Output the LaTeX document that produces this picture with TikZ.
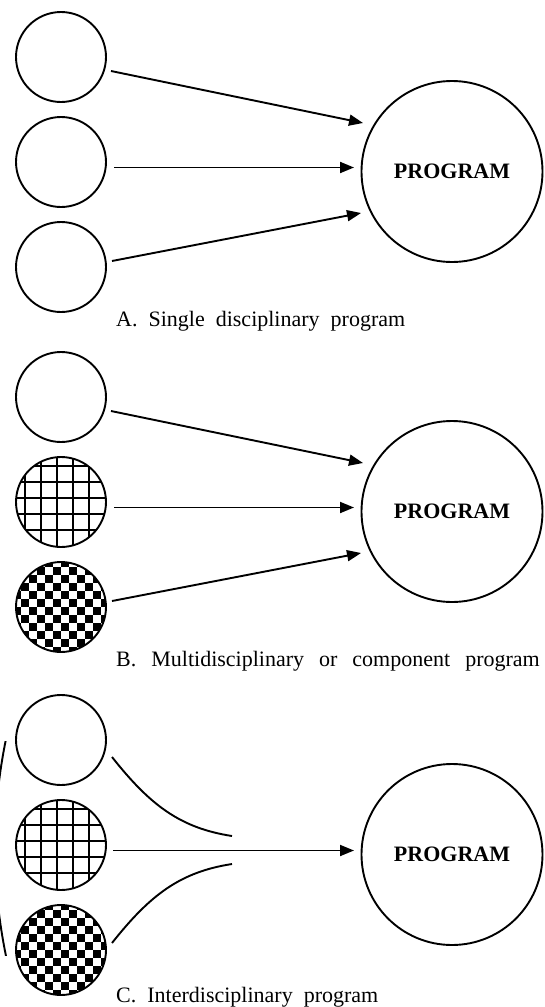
\documentclass[tikz,border=0pt]{standalone}
\usepackage{fontspec}
\setmainfont{Liberation Serif}
\usetikzlibrary{arrows.meta}
\tikzset{
  disc/.style={circle, draw, line width=1.9pt, minimum size=90pt, inner sep=0pt},
  prog/.style={circle, draw, line width=1.9pt, minimum size=181pt, inner sep=0pt,
    font=\fontsize{22}{26}\selectfont\bfseries},
  arr/.style={line width=1.9pt, -{Triangle[length=14pt,width=11pt]}},
  link/.style={line width=1.9pt},
  caption/.style={anchor=base west, inner sep=0pt, font=\fontsize{22}{26}\selectfont},
  gridfill/.style={path picture={
    \foreach \d in {-36,-20,-4,12,28}{
      \draw[line width=1.6pt] (path picture bounding box.center) ++(\d,-50) -- ++(0,100);
      \draw[line width=1.6pt] (path picture bounding box.center) ++(-50,\d) -- ++(100,0);
    }}},
  checkfill/.style={path picture={
    \foreach \i in {-6,...,5}{
      \foreach \j in {-6,...,5}{
        \pgfmathtruncatemacro\chk{mod(\i+\j+12,2)}
        \ifnum\chk=0
          \fill (path picture bounding box.center) ++(\i*8,\j*8) rectangle ++(8,8);
        \fi
      }}}},
}
\newcommand{\gp}{\hspace{11pt}}
\newcommand{\gpw}{\hspace{15pt}}
\begin{document}
\begin{tikzpicture}[x=1pt,y=-1pt]
\useasboundingbox (0,0) rectangle (544,1007);

% ---------- A ----------
\node[disc] (a1) at (61,57) {};
\node[disc] (a2) at (61,162) {};
\node[disc] (a3) at (61,267) {};
\node[prog] (ap) at (452,171.5) {PROGRAM};
\coordinate (a1o) at (111,71);  \coordinate (api1) at (363,123);
\coordinate (a2o) at (114,167.5); \coordinate (api2) at (354,167.5);
\coordinate (a3o) at (112,261); \coordinate (api3) at (361,213);
\draw[arr] (a1o) -- (api1);
\draw[arr] (a2o) -- (api2);
\draw[arr] (a3o) -- (api3);
\node[caption] (acap) at (116,326) {A.\gp Single\gp disciplinary\gp program};

% ---------- B ----------
\begin{scope}[yshift=-340pt]
\node[disc] (b1) at (61,57) {};
\node[disc, gridfill] (b2) at (61,162) {};
\node[disc, checkfill] (b3) at (61,267) {};
\node[prog] (bp) at (452,171.5) {PROGRAM};
\coordinate (b1o) at (111,71);  \coordinate (bpi1) at (363,123);
\coordinate (b2o) at (114,167.5); \coordinate (bpi2) at (354,167.5);
\coordinate (b3o) at (112,261); \coordinate (bpi3) at (361,213);
\draw[arr] (b1o) -- (bpi1);
\draw[arr] (b2o) -- (bpi2);
\draw[arr] (b3o) -- (bpi3);
\node[caption] (bcap) at (116,326) {B.\gpw Multidisciplinary\gpw or\gpw component\gpw program};
\end{scope}

% ---------- C ----------
\begin{scope}[yshift=-683pt]
\node[disc] (c1) at (61,57) {};
\node[disc, gridfill] (c2) at (61,162) {};
\node[disc, checkfill] (c3) at (61,267) {};
\node[prog] (cp) at (452,171.5) {PROGRAM};
\coordinate (c1o) at (112,74);  \coordinate (c1e) at (232,153);
\coordinate (c2o) at (113,167.5); \coordinate (cpi2) at (354,167.5);
\coordinate (c3o) at (112,260); \coordinate (c3e) at (232,181);
\draw[link] (c1o) .. controls (150,122) and (180,145) .. (c1e);
\draw[arr] (c2o) -- (cpi2);
\draw[link] (c3o) .. controls (150,212) and (180,189) .. (c3e);
\node[caption] (ccap) at (116,319) {C.\gp Interdisciplinary\gp program};
\end{scope}

% big left bracket arc, mostly off the page
\begin{scope}
\clip (-5,741) rectangle (15,955);
\draw[link] (530,847.5) circle[radius=535];
\end{scope}
\end{tikzpicture}
\end{document}
